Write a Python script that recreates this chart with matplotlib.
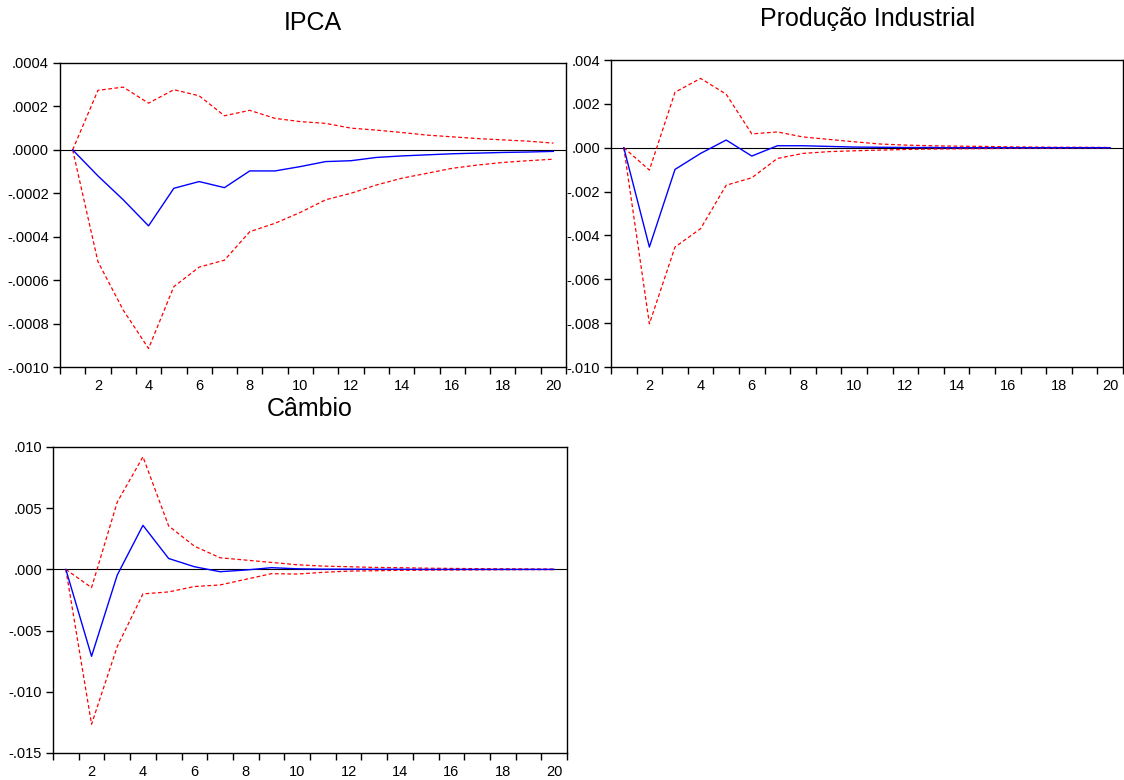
import numpy as np
import matplotlib
matplotlib.use('Agg')
import matplotlib.pyplot as plt
from matplotlib.ticker import FuncFormatter, FixedLocator

plt.rcParams['font.family'] = ['Liberation Sans', 'DejaVu Sans']

periods = np.arange(1, 21)

# IPCA
ipca_resp = [0, -0.00012, -0.00023, -0.00035, -0.000177, -0.000146, -0.000174, -0.000097,
             -0.000097, -0.000077, -0.000054, -0.00005, -0.000035, -0.000028, -0.000023,
             -0.000018, -0.000015, -0.000012, -0.00001, -0.000007]
ipca_up = [0, 0.000274, 0.000289, 0.000215, 0.000277, 0.000249, 0.000157, 0.000182,
           0.000145, 0.00013, 0.000122, 0.0001, 0.000091, 0.00008, 0.000068,
           0.00006, 0.000052, 0.000046, 0.00004, 0.000031]
ipca_lo = [0, -0.000515, -0.000738, -0.000915, -0.00063, -0.00054, -0.000508, -0.000377,
           -0.000338, -0.000288, -0.00023, -0.0002, -0.000162, -0.000131, -0.000108,
           -0.000085, -0.00007, -0.000058, -0.00005, -0.000043]

# Producao industrial
prod_resp = [0, -0.00453, -0.00099, -0.00026, 0.00035, -0.00038, 0.00009, 0.00009,
             0.00006, 0.00003, 0.00002, 0.00001, 0.00001, 0.0, 0.0,
             0.0, 0.0, 0.0, 0.0, 0.0]
prod_up = [0, -0.00102, 0.00253, 0.00316, 0.00244, 0.00063, 0.00072, 0.00049,
           0.00038, 0.00027, 0.00017, 0.00012, 0.00009, 0.00007, 0.00006,
           0.00004, 0.00003, 0.00002, 0.00002, 0.00001]
prod_lo = [0, -0.00803, -0.00453, -0.00369, -0.00171, -0.00137, -0.00049, -0.00026,
           -0.00018, -0.00014, -0.00011, -0.00008, -0.00006, -0.00005, -0.00004,
           -0.00003, -0.00002, -0.00002, -0.00001, -0.00001]

# Cambio
camb_resp = [0, -0.0071, -0.00046, 0.0036, 0.00089, 0.00022, -0.00019, -0.00005,
             0.00014, 0.00005, 0.00002, 0.00002, 0.00001, 0.00001, 0.0,
             0.0, 0.0, 0.0, 0.0, 0.0]
camb_up = [0, -0.00149, 0.0055, 0.0092, 0.00355, 0.0019, 0.00095, 0.00076,
           0.00057, 0.00038, 0.00027, 0.00022, 0.00016, 0.00014, 0.0001,
           0.00008, 0.00006, 0.00005, 0.00004, 0.00003]
camb_lo = [0, -0.01265, -0.0063, -0.002, -0.00184, -0.0014, -0.00127, -0.00081,
           -0.00035, -0.00038, -0.00024, -0.00014, -0.00011, -0.00008, -0.00006,
           -0.00005, -0.00004, -0.00003, -0.00002, -0.00002]

W, H = 1124, 780


def eviews_fmt(decimals):
    # eviews style labels: .0004, -.0010
    def f(v, pos):
        if abs(v) < 1e-12:
            v = 0.0
        s = ('%.' + str(decimals) + 'f') % v
        return s.replace('0.', '.', 1)
    return FuncFormatter(f)


def panel(box, resp, up, lo, yticks, decimals, title, title_xy):
    left, right, top, bottom = box
    ax = fig.add_axes([left / W, 1 - bottom / H, (right - left) / W, (bottom - top) / H])
    ax.axhline(0, color='black', lw=0.8, zorder=1)
    ax.plot(periods, resp, color='blue', lw=1.0, zorder=3)
    ax.plot(periods, up, color='red', lw=0.9, ls=(0, (3, 2)), zorder=2)
    ax.plot(periods, lo, color='red', lw=0.9, ls=(0, (3, 2)), zorder=2)
    ax.set_xlim(0.5, 20.5)
    ax.set_ylim(yticks[0], yticks[-1])
    ax.xaxis.set_major_locator(FixedLocator(np.arange(2, 21, 2)))
    ax.xaxis.set_minor_locator(FixedLocator(np.arange(0.5, 21, 1)))
    ax.tick_params(axis='x', which='major', length=0, pad=9, labelsize=10.5)
    ax.tick_params(axis='x', which='minor', length=5, width=1, direction='out')
    ax.set_yticks(yticks)
    ax.yaxis.set_major_formatter(eviews_fmt(decimals))
    ax.tick_params(axis='y', length=5, width=1, direction='out',
                   labelsize=10.5, pad=3)
    for sp in ax.spines.values():
        sp.set_linewidth(1.0)
    fig.text(title_xy[0] / W, 1 - title_xy[1] / H, title, fontsize=18,
             ha='center', va='center')
    return ax


fig = plt.figure(figsize=(W / 100, H / 100), dpi=100)

panel((60, 566, 63, 367), ipca_resp, ipca_up, ipca_lo,
      [-0.0010, -0.0008, -0.0006, -0.0004, -0.0002, 0.0, 0.0002, 0.0004], 4,
      'IPCA', (313, 23))
panel((611, 1123, 60, 367), prod_resp, prod_up, prod_lo,
      [-0.010, -0.008, -0.006, -0.004, -0.002, 0.0, 0.002, 0.004], 3,
      'Produção Industrial', (868, 19))
panel((53, 567, 447, 753), camb_resp, camb_up, camb_lo,
      [-0.015, -0.010, -0.005, 0.0, 0.005, 0.010], 3,
      'Câmbio', (310, 409))

fig.savefig('out.png', dpi=100)
